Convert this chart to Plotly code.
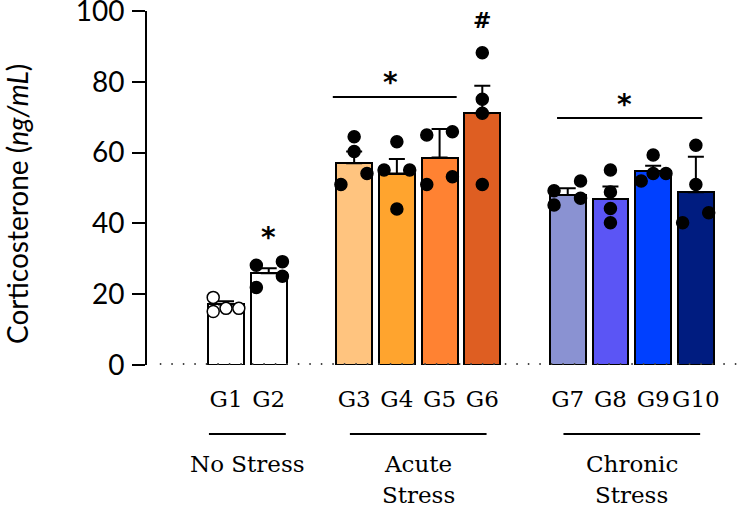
import plotly.graph_objects as go

# ---- data ----
groups = [["No Stress"], ["Acute", "Stress"], ["Chronic", "Stress"]]
group_members = [["G1", "G2"], ["G3", "G4", "G5", "G6"], ["G7", "G8", "G9", "G10"]]
bar_means = [17.1, 25.9, 57.0, 54.1, 58.6, 71.1, 48.0, 46.9, 54.8, 48.8]
bar_sem = [0.9, 1.4, 3.3, 4.1, 8.1, 7.8, 1.9, 3.5, 1.5, 10.0]
points = [
    [19.1, 15.1, 16.0, 16.0],
    [28.2, 29.2, 25.1, 21.9],
    [64.5, 60.3, 54.1, 51.0],
    [63.1, 55.1, 55.1, 44.1],
    [65.0, 65.9, 53.2, 51.0],
    [88.2, 75.1, 71.1, 51.0],
    [49.2, 45.2, 52.0, 47.1],
    [55.1, 48.9, 44.2, 40.2],
    [59.3, 54.1, 54.1, 52.0],
    [62.1, 51.0, 43.0, 40.2],
]
jitter = [
    [-0.3, -0.3, 0.0, 0.3],
    [-0.29, 0.32, 0.32, -0.29],
    [0.0, 0.0, 0.3, -0.31],
    [0.0, -0.3, 0.3, 0.0],
    [-0.3, 0.3, 0.3, -0.3],
    [0.0, 0.0, 0.0, 0.0],
    [-0.32, -0.32, 0.3, 0.3],
    [0.0, 0.0, 0.0, 0.0],
    [0.0, 0.0, 0.3, -0.28],
    [0.0, 0.0, 0.3, -0.31],
]
bar_colors = ["#FFFFFF", "#FFFFFF", "#FFC47F", "#FFA42E", "#FF8232", "#DE5E22",
              "#8A92D2", "#5B55F5", "#0040FF", "#001C80"]
point_fill = ["#FFFFFF"] + ["#000000"] * 9
y_ticks = [0, 20, 40, 60, 80, 100]

# ---- layout positions ----
labels, xpos, centers = [], [], []
slot = 0
for members in group_members:
    start = slot
    for m in members:
        labels.append(m)
        xpos.append(slot)
        slot += 1
    centers.append((start + slot - 1) / 2)
    slot += 1

XMIN, XMAX = -1.85, 12.08
def xp(xd):
    return (xd - XMIN) / (XMAX - XMIN)

SERIF = "DejaVu Serif"
SANS = "Lato"
MARK = "DejaVu Sans"

fig = go.Figure()
fig.add_trace(go.Bar(
    x=xpos, y=bar_means, width=0.84,
    marker=dict(color=bar_colors, line=dict(color="black", width=2)),
    error_y=dict(type="data", symmetric=False, array=bar_sem,
                 arrayminus=[0] * len(bar_sem), color="black", thickness=2, width=8),
    showlegend=False, hoverinfo="skip",
))
for i in range(len(labels)):
    fig.add_trace(go.Scatter(
        x=[xpos[i] + j for j in jitter[i]], y=points[i], mode="markers",
        marker=dict(size=12, color=point_fill[i], line=dict(color="black", width=1.5)),
        showlegend=False, hoverinfo="skip",
    ))

shapes = []
# dotted baseline
shapes.append(dict(type="line", xref="x", yref="y", x0=-1.55, x1=XMAX, y0=0, y1=0,
                   line=dict(color="#444", width=4, dash="1.5px,10px"), layer="above"))
# significance brackets
shapes.append(dict(type="line", xref="x", yref="y", x0=2.5, x1=5.4, y0=75.7, y1=75.7,
                   line=dict(color="black", width=2)))
shapes.append(dict(type="line", xref="x", yref="y", x0=7.75, x1=11.15, y0=69.8, y1=69.8,
                   line=dict(color="black", width=2)))
# group underlines
half_len = [0.9, 1.6, 1.6]
for c, h in zip(centers, half_len):
    shapes.append(dict(type="line", xref="paper", yref="paper", x0=xp(c - h), x1=xp(c + h),
                       y0=-0.195, y1=-0.195, line=dict(color="black", width=2)))

ann = []
def A(text, x, y, size, family, xref="paper", yref="paper", yanchor="middle", **kw):
    ann.append(dict(text=text, x=x, y=y, xref=xref, yref=yref, showarrow=False,
                    font=dict(size=size, family=family, color="black"),
                    xanchor="center", yanchor=yanchor, **kw))

# group names
for c, lines in zip(centers, groups):
    A(lines[0], xp(c), -0.280, 23, SERIF)
    if len(lines) > 1:
        A(lines[1], xp(c), -0.408, 23, SERIF, yanchor="bottom", borderpad=0)
# significance marks
A("<b>*</b>", 1.0, 35.9, 28, MARK, xref="x", yref="y")
A("<b>*</b>", 3.86, 79.8, 28, MARK, xref="x", yref="y")
A("<b>*</b>", 9.32, 73.6, 28, MARK, xref="x", yref="y")
A("<b>#</b>", 6.0, 97.3, 22, MARK, xref="x", yref="y")
# y title
A("Corticosterone (<i>ng/mL</i>)", -0.2185, 45.5, 28, SANS, yref="y", textangle=-90)

fig.update_layout(
    width=742, height=509, margin=dict(l=147, r=0, t=11, b=144, autoexpand=False),
    paper_bgcolor="white", plot_bgcolor="white",
    shapes=shapes, annotations=ann, bargap=0,
    xaxis=dict(range=[XMIN, XMAX], tickvals=xpos, ticktext=labels, ticks="",
               showline=False, showgrid=False, zeroline=False, fixedrange=True,
               automargin=False,
               tickfont=dict(family=SERIF, size=23, color="black"),
               ticklabelstandoff=18),
    yaxis=dict(range=[0, 100.01], tickvals=y_ticks, showline=True, linewidth=2,
               linecolor="black", ticks="outside", ticklen=13, tickwidth=2,
               tickcolor="black", showgrid=False, zeroline=False, automargin=False,
               tickfont=dict(family=SANS, size=28, color="black"),
               ticklabeloverflow="allow", ticklabelstandoff=2),
)
fig.write_html("out.html")
